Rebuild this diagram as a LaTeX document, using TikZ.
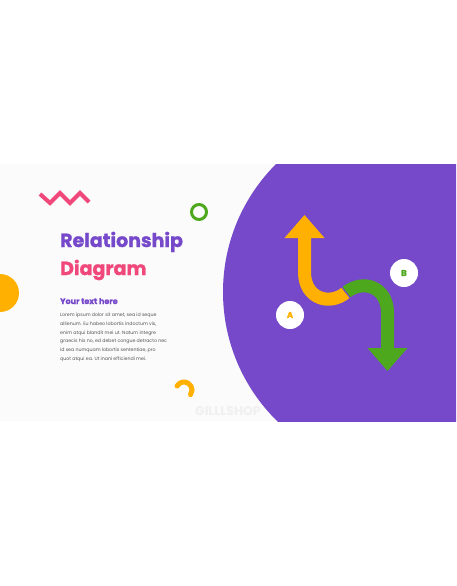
\documentclass[tikz,border=0pt]{standalone}
\usepackage{fontspec}
\setmainfont{Poppins}
\newfontfamily\headfont{Poppins}[BoldFeatures={FakeBold=1.2}]
\usepackage{tikz}
\usetikzlibrary{arrows.meta}
\definecolor{violet}{RGB}{118, 72, 202}
\definecolor{rose}{RGB}{240, 72, 122}
\definecolor{amber}{RGB}{255, 176, 0}
\definecolor{leaf}{RGB}{78, 168, 30}
\definecolor{paper}{RGB}{251, 251, 251}
\definecolor{ink}{RGB}{85, 85, 85}
\tikzset{
  shaft/.style={line width=13pt},
  badge/.style={circle, fill=white, minimum size=28pt, inner sep=0pt, font=\headfont\bfseries\fontsize{8.5}{8.5}\selectfont},
  title/.style={anchor=base west, inner sep=0pt, font=\headfont\bfseries\fontsize{19}{19}\selectfont},
}

\begin{document}
\begin{tikzpicture}[x=1pt,y=-1pt] % pixel grid, y going down
				\useasboundingbox (0,0) rectangle (456,586);
				\fill[white] (0,0) rectangle (456,586);
				\fill[paper] (0,164) rectangle (456,421); % the slide
				\begin{scope}
					\clip (0,164) rectangle (456,421);
					\node[text=gray!12, font=\bfseries\fontsize{12.5}{12.5}\selectfont] (mark) at (228,411) {GILLLSHOP};
					\fill[violet] (404,292) circle (181);
					\fill[amber] (0,293) circle (19);
				\end{scope}
				% decorations on the left
				\draw[rose, line width=4pt] (40,194) -- (50,203) -- (60,193) -- (70,203) -- (80,193) -- (89,202);
				\draw[leaf, line width=3pt] (199,212) circle (7.5);
				\draw[amber, line width=5pt, line cap=round] (184,390) ++(-150:8) arc (-150:35:8);
				% texts
				\node[title, text=violet] (title1) at (60,247) {Relationship};
				\node[title, text=rose] (title2) at (60,275) {Diagram};
				\node[anchor=base west, inner sep=0pt, text=violet, font=\headfont\bfseries\fontsize{8}{8}\selectfont] (sub) at (60,304) {Your text here};
				\node[anchor=north west, inner sep=0pt, text=ink, align=left, font=\fontsize{4.7}{8.7}\selectfont] (body) at (60,313) {Lorem ipsum dolor sit amet, sea id seque\\
					allienum. Eu habeo lobortis indoctum vis,\\
					enim atqui blandit mei ut. Natum integre\\
					graecis his no, ed debet congue detracto nec\\
					id sea numquam lobortis sententiae, pro\\
					quot atqui ea. Ut inani efficiendi mei.};
				% the two arrows
				\coordinate (j) at (346,292.5);
				\coordinate (up) at (304.5,237);
				\coordinate (down) at (387.5,348);
				\draw[amber, shaft] (up) -- (304.5,272) .. controls (304.5,299) and (330,306) .. (j);
				\fill[amber] (284.5,238) -- (304.5,215) -- (324.5,238) -- cycle;
				\draw[leaf, shaft] (j) .. controls (362,279) and (387.5,286) .. (387.5,313) -- (down);
				\fill[leaf] (367.5,348) -- (387.5,371) -- (407.5,348) -- cycle;
				\draw[violet, line width=1.2pt] (340,285) -- (352,300);
				\node[badge, text=amber] (a) at (290,315) {A};
				\node[badge, text=leaf] (b) at (404,273) {B};
			\end{tikzpicture}
\end{document}
